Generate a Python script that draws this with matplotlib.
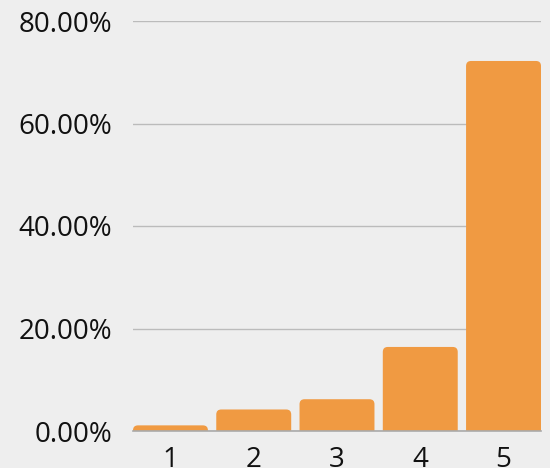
import matplotlib
matplotlib.use("Agg")
import matplotlib.pyplot as plt
from matplotlib.patches import FancyBboxPatch
from matplotlib.ticker import FuncFormatter

categories = ["1", "2", "3", "4", "5"]
values = [1.1, 4.2, 6.2, 16.4, 72.2]
yticks = [0, 20, 40, 60, 80]

bg = "#eeeeee"
bar_color = "#f09a42"

plt.rcParams['font.family'] = ['Open Sans', 'DejaVu Sans']

fig = plt.figure(figsize=(5.5, 4.68), dpi=100, facecolor=bg)
ax = fig.add_axes([133/550, 1 - 431/468, 408/550, 410/468])
ax.set_facecolor(bg)

x = list(range(1, len(categories) + 1))
width = 0.9
bars = ax.bar(x, values, width=width, color=bar_color, zorder=3)

ax.set_xlim(0.55, len(categories) + 0.45)
ax.set_ylim(0, 80)

# replace bars with rounded-top versions
fig.canvas.draw()
px_x = ax.transData.transform((1, 0))[0] - ax.transData.transform((0, 0))[0]
px_y = ax.transData.transform((0, 1))[1] - ax.transData.transform((0, 0))[1]
r_px = 5
for b in bars:
    bx, by = b.get_x(), b.get_y()
    bw, bh = b.get_width(), b.get_height()
    b.set_visible(False)
    r = r_px / px_x
    patch = FancyBboxPatch((bx, by - 5), bw, bh + 5,
                           boxstyle=f"round,pad=0,rounding_size={r}",
                           mutation_aspect=px_x / px_y,
                           facecolor=bar_color, edgecolor="none", zorder=3,
                           clip_on=True)
    ax.add_patch(patch)

ax.set_yticks(yticks)
ax.yaxis.set_major_formatter(FuncFormatter(lambda v, p: f"{v:.2f}%"))
ax.set_xticks(x)
ax.set_xticklabels(categories)
ax.grid(axis='y', color="#bbbbbb", linewidth=1, zorder=0)
ax.tick_params(axis='both', length=0, labelsize=20, colors="#111111")
ax.tick_params(axis='y', pad=15)
ax.tick_params(axis='x', pad=11)
for s in ["top", "right", "left"]:
    ax.spines[s].set_visible(False)
ax.spines["bottom"].set_color("#aaaaaa")
ax.spines["bottom"].set_linewidth(1.2)
ax.spines["bottom"].set_zorder(4)

fig.savefig("out.png", dpi=100, facecolor=bg)
